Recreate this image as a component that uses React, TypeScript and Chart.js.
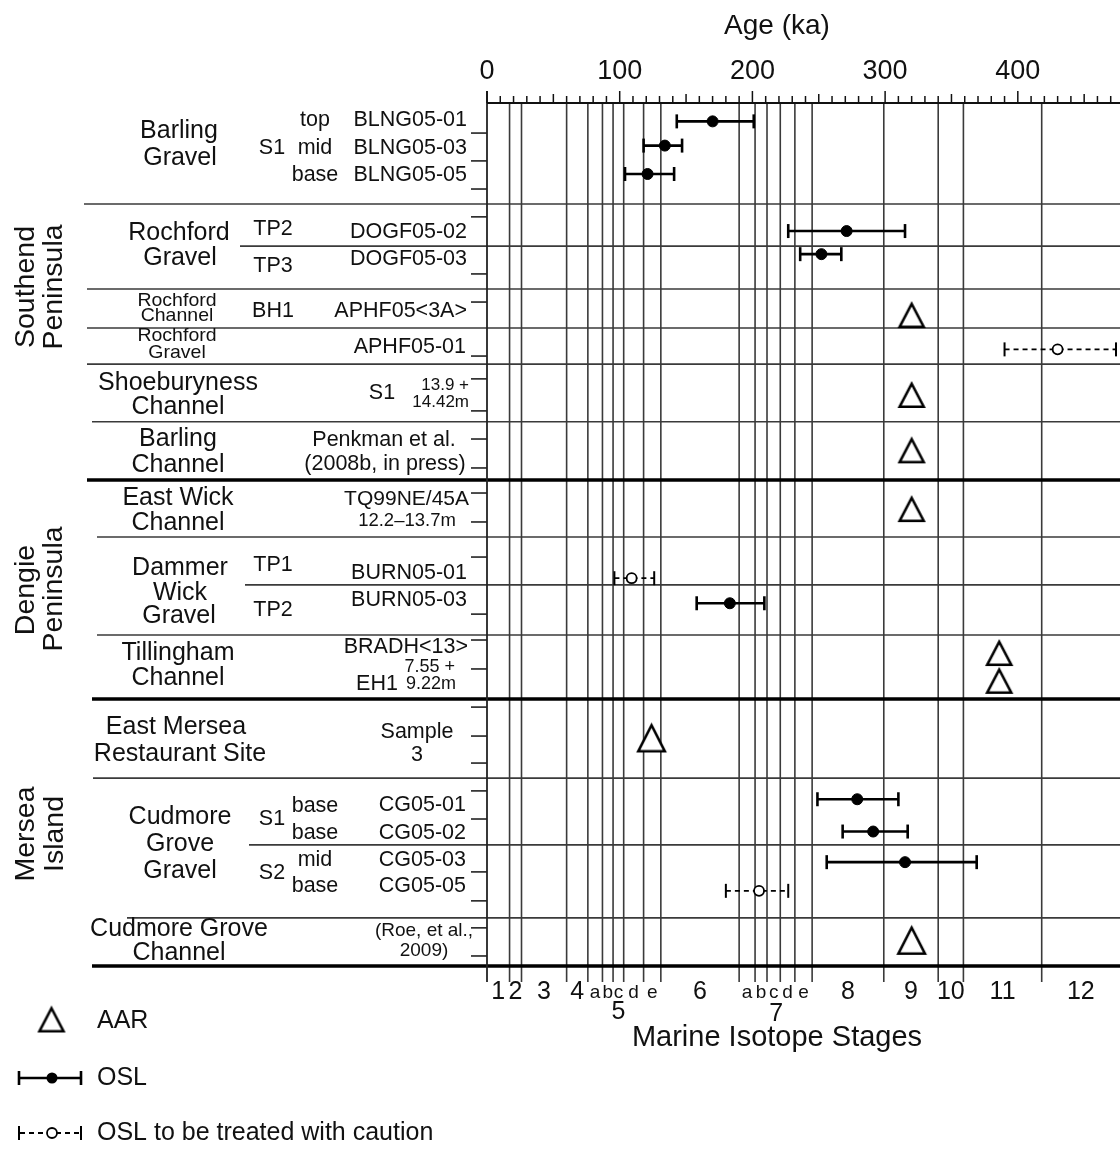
import { useEffect, useRef } from "react";
import { Chart, registerables } from "chart.js";

Chart.register(...registerables);

const FONT = '"Liberation Sans", Arial, Helvetica, sans-serif';
const INK = "#111";
const RULE = "#3a3a3a";

// ---- Age axis (ka) ----
const ageMin = 0;
const ageMax = 477;
const ageTickLabels = [0, 100, 200, 300, 400];
const ageMinorStep = 10;

// ---- Marine isotope stage boundaries (ka) and stage labels ----
const misBoundaries = [17, 26, 60, 76, 87, 95, 103, 118, 131, 190, 202, 211, 221, 232, 245, 299, 340, 359, 418];
const misLabels = ["1", "2", "3", "4", "a", "b", "c", "d", "e", "6", "a", "b", "c", "d", "e", "8", "9", "10", "11", "12"];
const misIsSubstage = [false, false, false, false, true, true, true, true, true, false, true, true, true, true, true, false, false, false, false, false];
const misGroupLabels = ["5", "7"];
const misGroupAges = [99, 218];

// ---- Sample rows (row slots counted from the top) ----
const rowMax = 31;
const rowTicks = [1.08, 2.08, 3.09, 4.09, 6.14, 7.15, 9.09, 9.91, 11.06, 12.07, 13.11, 14.01, 15.05, 16.31, 18.36, 19.29, 20.33, 21.7, 22.74, 23.71, 24.71, 25.72, 27.62, 28.66, 29.63, 30.64];
const rowRules = [3.63, 5.14, 6.68, 8.08, 9.38, 11.45, 13.54, 15.59, 17.31, 19.11, 21.41, 24.25, 26.65, 29.27, 31];
const rowRuleHeavy = [false, false, false, false, false, false, true, false, false, false, true, false, false, false, true];

// ---- OSL ages (ka) with error ranges ----
const oslSamples = ["BLNG05-01", "BLNG05-03", "BLNG05-05", "DOGF05-02", "DOGF05-03", "BURN05-03", "CG05-01", "CG05-02", "CG05-03"];
const oslAge = [170, 134, 121, 271, 252, 183, 279, 291, 315];
const oslLow = [143, 118, 104, 227, 236, 158, 249, 268, 256];
const oslHigh = [201, 147, 141, 315, 267, 209, 310, 317, 369];
const oslRow = [0.66, 1.53, 2.55, 4.6, 5.43, 17.97, 25.01, 26.17, 27.27];

// ---- OSL ages to be treated with caution ----
const cautionSamples = ["APHF05-01", "BURN05-01", "CG05-05"];
const cautionAge = [430, 109, 205];
const cautionLow = [390, 96, 180];
const cautionHigh = [474, 126, 227];
const cautionRow = [8.85, 17.07, 28.3];

// ---- AAR age estimates (ka) ----
const aarSamples = ["APHF05<3A>", "S1 13.9-14.42m", "Penkman et al.", "TQ99NE/45A", "BRADH<13>", "EH1 7.55-9.22m", "Sample 3", "Roe et al. 2009"];
const aarAge = [320, 320, 320, 320, 386, 386, 124, 320];
const aarRow = [7.6, 10.47, 12.46, 14.57, 19.74, 20.74, 22.79, 30.06];

// left-hand rule start (px) for each row rule
const rowRuleStart = [84, 240, 87, 87, 87, 92, 87, 97, 245, 97, 92, 93, 249, 127, 92];
const aarLargeMarker = [6, 7];

type Label = [string, number, number, number, CanvasTextAlign, number?];

// Site names
const siteLabels: Label[] = [
  ["Barling", 179, 131, 25, "center"], ["Gravel", 180, 158, 25, "center"],
  ["Rochford", 179, 233, 25, "center"], ["Gravel", 180, 258, 25, "center"],
  ["Rochford", 177, 301, 19.5, "center", 0.9], ["Channel", 177, 316, 19.5, "center", 0.9],
  ["Rochford", 177, 336, 19.5, "center", 0.9], ["Gravel", 177, 353, 19.5, "center", 0.9],
  ["Shoeburyness", 178, 383, 25, "center"], ["Channel", 178, 407, 25, "center"],
  ["Barling", 178, 439, 25, "center"], ["Channel", 178, 465, 25, "center"],
  ["East Wick", 178, 498, 25, "center"], ["Channel", 178, 523, 25, "center"],
  ["Dammer", 180, 568, 25, "center"], ["Wick", 180, 593, 25, "center"], ["Gravel", 179, 616, 25, "center"],
  ["Tillingham", 178, 653, 25, "center"], ["Channel", 178, 678, 25, "center"],
  ["East Mersea", 176, 727, 25, "center"], ["Restaurant Site", 180, 754, 25, "center"],
  ["Cudmore", 180, 817, 25, "center"], ["Grove", 180, 844, 25, "center"], ["Gravel", 180, 871, 25, "center"],
  ["Cudmore Grove", 179, 929, 25, "center"], ["Channel", 179, 953, 25, "center"],
];

// Section, position and sample labels
const sampleLabels: Label[] = [
  ["top", 315, 120, 21.5, "center"], ["S1", 272, 148, 21.5, "center"], ["mid", 315, 148, 21.5, "center"], ["base", 315, 175, 21.5, "center"],
  ["BLNG05-01", 467, 120, 21.5, "right"], ["BLNG05-03", 467, 148, 21.5, "right"], ["BLNG05-05", 467, 175, 21.5, "right"],
  ["TP2", 273, 229, 21.5, "center"], ["DOGF05-02", 467, 232, 21.5, "right"],
  ["TP3", 273, 266, 21.5, "center"], ["DOGF05-03", 467, 259, 21.5, "right"],
  ["BH1", 273, 311, 21.5, "center"], ["APHF05<3A>", 467, 311, 21.5, "right"],
  ["APHF05-01", 466, 347, 21.5, "right"],
  ["S1", 382, 393, 21.5, "center"], ["13.9 +", 469, 385, 17, "right"], ["14.42m", 469, 402, 17, "right"],
  ["Penkman et al.", 384, 440, 21.5, "center"], ["(2008b, in press)", 385, 464, 21.5, "center"],
  ["TQ99NE/45A", 469, 499, 21, "right"], ["12.2\u201313.7m", 407, 521, 18.5, "center"],
  ["TP1", 273, 565, 21.5, "center"], ["BURN05-01", 467, 573, 21.5, "right"],
  ["TP2", 273, 610, 21.5, "center"], ["BURN05-03", 467, 600, 21.5, "right"],
  ["BRADH<13>", 468, 647, 21.5, "right"], ["7.55 +", 455, 667, 18, "right"],
  ["EH1", 377, 684, 21.5, "center"], ["9.22m", 456, 684, 18, "right"],
  ["Sample", 417, 732, 21.5, "center"], ["3", 417, 755, 21.5, "center"],
  ["S1", 272, 819, 21.5, "center"], ["base", 315, 806, 21.5, "center"], ["base", 315, 833, 21.5, "center"],
  ["CG05-01", 466, 805, 21.5, "right"], ["CG05-02", 466, 833, 21.5, "right"],
  ["S2", 272, 873, 21.5, "center"], ["mid", 315, 860, 21.5, "center"], ["base", 315, 886, 21.5, "center"],
  ["CG05-03", 466, 860, 21.5, "right"], ["CG05-05", 466, 886, 21.5, "right"],
  ["(Roe, et al.,", 424, 931, 19, "center"], ["2009)", 424, 951, 19, "center"],
];

const regionLabels: [string, number, number][] = [
  ["Southend", 26, 287], ["Peninsula", 54, 287],
  ["Dengie", 26, 590], ["Peninsula", 54, 589],
  ["Mersea", 26, 834], ["Island", 55, 834],
];

function makeTriangle(w: number, h: number, lw: number): HTMLCanvasElement {
  const pad = 5;
  const c = document.createElement("canvas");
  c.width = Math.ceil(w + 2 * pad);
  c.height = Math.ceil(h + 2 * pad);
  const g = c.getContext("2d")!;
  const miterTop = lw / 2 / Math.sin(Math.atan(w / 2 / h));
  const apexY = c.height / 2 - (h + lw / 2 - miterTop) / 2;
  const cx = c.width / 2;
  g.lineWidth = lw;
  g.lineJoin = "miter";
  g.strokeStyle = "#000";
  g.fillStyle = "#fff";
  g.beginPath();
  g.moveTo(cx, apexY);
  g.lineTo(cx + w / 2, apexY + h);
  g.lineTo(cx - w / 2, apexY + h);
  g.closePath();
  g.fill();
  g.stroke();
  return c;
}

function drawText(ctx: CanvasRenderingContext2D, l: Label) {
  const [t, x, y, size, align, sy] = l;
  ctx.save();
  ctx.font = `${size}px ${FONT}`;
  ctx.textAlign = align;
  ctx.textBaseline = "middle";
  ctx.translate(x, y);
  if (sy) ctx.scale(1, sy);
  ctx.fillText(t, 0, 0);
  ctx.restore();
}

export default function App() {
  const ref = useRef<HTMLCanvasElement>(null);

  useEffect(() => {
    const canvas = ref.current!;
    const tri = makeTriangle(24, 23, 2.6);
    const triLarge = makeTriangle(26.5, 26, 2.6);

    const datasets: any[] = [
      {
        type: "scatter",
        label: "OSL",
        data: oslAge.map((a, i) => ({ x: a, y: oslRow[i] })),
        pointStyle: "circle",
        pointRadius: 5.5,
        backgroundColor: "#000",
        borderColor: "#000",
        pointBorderWidth: 1,
        order: 0,
      },
      {
        type: "scatter",
        label: "OSL to be treated with caution",
        data: cautionAge.map((a, i) => ({ x: a, y: cautionRow[i] })),
        pointStyle: "circle",
        pointRadius: 5,
        backgroundColor: "#fff",
        borderColor: "#000",
        pointBorderWidth: 1.8,
        order: 0,
      },
      {
        type: "scatter",
        label: "AAR",
        data: aarAge.map((a, i) => ({ x: a, y: aarRow[i] })),
        pointStyle: (c: any) => (aarLargeMarker.includes(c.dataIndex) ? triLarge : tri),
        pointRadius: 14,
        order: 0,
      },
    ];

    oslSamples.forEach((name, i) => {
      datasets.push({
        type: "line",
        label: name,
        data: [{ x: oslLow[i], y: oslRow[i] }, { x: oslHigh[i], y: oslRow[i] }],
        borderColor: "#000",
        borderWidth: 2.6,
        pointStyle: "line",
        pointRotation: 90,
        pointRadius: 7,
        pointBorderWidth: 2.6,
        pointBorderColor: "#000",
        fill: false,
        order: 1,
      });
    });

    cautionSamples.forEach((name, i) => {
      datasets.push({
        type: "line",
        label: name,
        data: [{ x: cautionLow[i], y: cautionRow[i] }, { x: cautionHigh[i], y: cautionRow[i] }],
        borderColor: "#000",
        borderWidth: 1.8,
        borderDash: [5, 4],
        pointStyle: "line",
        pointRotation: 90,
        pointRadius: 7,
        pointBorderWidth: 2,
        pointBorderColor: "#000",
        fill: false,
        order: 1,
      });
    });

    const decor = {
      id: "decor",
      beforeDatasetsDraw(chart: any) {
        const { ctx, chartArea: a, scales } = chart;
        const x = scales.x;
        const y = scales.y;
        ctx.save();
        ctx.lineCap = "butt";

        // stage boundaries, running on below the lower axis
        ctx.strokeStyle = RULE;
        ctx.lineWidth = 1.6;
        for (const b of misBoundaries) {
          const px = x.getPixelForValue(b);
          ctx.beginPath();
          ctx.moveTo(px, a.top);
          ctx.lineTo(px, a.bottom + 16);
          ctx.stroke();
        }

        // row rules
        rowRules.forEach((r, i) => {
          const py = y.getPixelForValue(r);
          ctx.strokeStyle = rowRuleHeavy[i] ? "#000" : RULE;
          ctx.lineWidth = rowRuleHeavy[i] ? 3.6 : 1.6;
          ctx.beginPath();
          ctx.moveTo(rowRuleStart[i], py);
          ctx.lineTo(a.right, py);
          ctx.stroke();
        });

        // left axis and its ticks
        ctx.strokeStyle = "#222";
        ctx.lineWidth = 1.8;
        ctx.beginPath();
        ctx.moveTo(a.left, a.top - 12);
        ctx.lineTo(a.left, a.bottom + 16);
        ctx.stroke();
        ctx.lineWidth = 1.6;
        for (const t of rowTicks) {
          const py = y.getPixelForValue(t);
          ctx.beginPath();
          ctx.moveTo(a.left - 16, py);
          ctx.lineTo(a.left, py);
          ctx.stroke();
        }

        // age axis along the top
        ctx.strokeStyle = "#111";
        ctx.lineWidth = 2;
        ctx.beginPath();
        ctx.moveTo(a.left, a.top);
        ctx.lineTo(a.right, a.top);
        ctx.stroke();
        ctx.lineWidth = 1.5;
        for (let v = ageMin; v <= ageMax; v += ageMinorStep) {
          const px = x.getPixelForValue(v);
          const len = v % 100 === 0 ? 12 : v % 50 === 0 ? 9 : 7;
          ctx.beginPath();
          ctx.moveTo(px, a.top - len);
          ctx.lineTo(px, a.top);
          ctx.stroke();
        }
        ctx.restore();
      },
      afterDraw(chart: any) {
        const { ctx, scales } = chart;
        const x = scales.x;
        ctx.save();
        ctx.fillStyle = INK;

        // age axis labels
        ctx.textAlign = "center";
        ctx.textBaseline = "alphabetic";
        ctx.font = `28px ${FONT}`;
        ctx.fillText("Age (ka)", 777, 34);
        ctx.font = `27px ${FONT}`;
        for (const v of ageTickLabels) ctx.fillText(String(v), x.getPixelForValue(v), 79);

        // stage labels under the lower axis
        const edges = [ageMin, ...misBoundaries, ageMax];
        misLabels.forEach((lab, i) => {
          const mid = (edges[i] + edges[i + 1]) / 2;
          ctx.font = misIsSubstage[i] ? `19px ${FONT}` : `25px ${FONT}`;
          ctx.fillText(lab, x.getPixelForValue(mid), misIsSubstage[i] ? 998 : 999);
        });
        ctx.font = `25px ${FONT}`;
        misGroupLabels.forEach((lab, i) => {
          ctx.fillText(lab, x.getPixelForValue(misGroupAges[i]), i === 0 ? 1019 : 1021);
        });
        ctx.font = `29px ${FONT}`;
        ctx.fillText("Marine Isotope Stages", 777, 1046);

        // region, site and sample labels
        for (const l of siteLabels) drawText(ctx, l);
        for (const l of sampleLabels) drawText(ctx, l);
        ctx.font = `28.5px ${FONT}`;
        ctx.textAlign = "center";
        ctx.textBaseline = "middle";
        for (const [t, lx, ly] of regionLabels) {
          ctx.save();
          ctx.translate(lx, ly);
          ctx.rotate(-Math.PI / 2);
          ctx.fillText(t, 0, 0);
          ctx.restore();
        }

        // key
        ctx.drawImage(tri, 51.5 - tri.width / 2, 1019 - tri.height / 2);
        ctx.strokeStyle = "#000";
        ctx.lineWidth = 2.6;
        ctx.beginPath();
        ctx.moveTo(19, 1078); ctx.lineTo(81, 1078);
        ctx.moveTo(19, 1071); ctx.lineTo(19, 1085);
        ctx.moveTo(81, 1071); ctx.lineTo(81, 1085);
        ctx.stroke();
        ctx.fillStyle = "#000";
        ctx.beginPath(); ctx.arc(52, 1078, 5.5, 0, Math.PI * 2); ctx.fill();

        ctx.lineWidth = 1.8;
        ctx.setLineDash([5, 4]);
        ctx.beginPath();
        ctx.moveTo(20, 1133); ctx.lineTo(81, 1133);
        ctx.stroke();
        ctx.setLineDash([]);
        ctx.lineWidth = 2;
        ctx.beginPath();
        ctx.moveTo(19, 1126); ctx.lineTo(19, 1140);
        ctx.moveTo(81, 1126); ctx.lineTo(81, 1140);
        ctx.stroke();
        ctx.fillStyle = "#fff";
        ctx.lineWidth = 1.8;
        ctx.beginPath(); ctx.arc(52, 1133, 5, 0, Math.PI * 2); ctx.fill(); ctx.stroke();

        ctx.fillStyle = INK;
        ctx.font = `25px ${FONT}`;
        ctx.textAlign = "left";
        ctx.textBaseline = "middle";
        ctx.fillText("AAR", 97, 1021);
        ctx.fillText("OSL", 97, 1078);
        ctx.fillText("OSL to be treated with caution", 97, 1133);
        ctx.restore();
      },
    };

    const chart = new Chart(canvas, {
      type: "scatter",
      data: { datasets },
      options: {
        responsive: false,
        animation: false,
        devicePixelRatio: 1,
        events: [],
        layout: { autoPadding: false, padding: { left: 487, top: 103, right: 0, bottom: 185 } },
        plugins: { legend: { display: false }, tooltip: { enabled: false } },
        scales: {
          x: { type: "linear", min: ageMin, max: ageMax, display: false },
          y: { type: "linear", min: 0, max: rowMax, reverse: true, display: false },
        },
      },
      plugins: [decor],
    } as any);

    return () => chart.destroy();
  }, []);

  return (
    <div style={{ position: "absolute", left: 0, top: 0, width: 1120, height: 1151, background: "#fff" }}>
      <canvas ref={ref} width={1120} height={1151} style={{ display: "block" }} />
    </div>
  );
}
